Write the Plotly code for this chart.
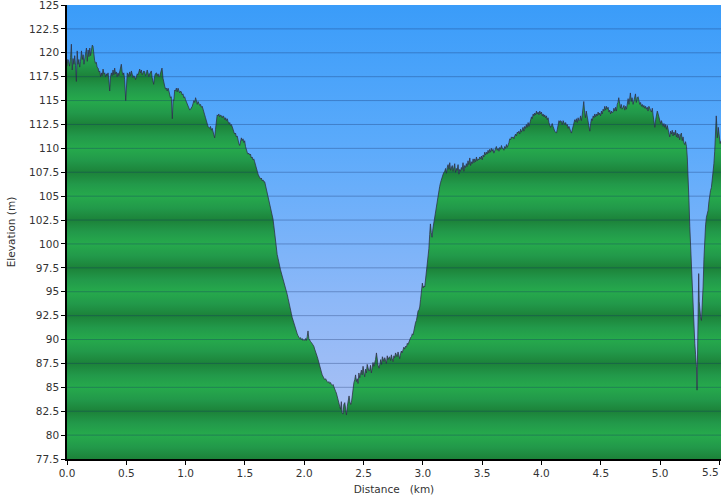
import plotly.graph_objects as go

# ---------------- data ----------------
DIST_KM = [
    # 0.00 - 0.29
    0.000,0.007,0.014,0.022,0.030,0.037,0.044,0.051,0.058,0.065,
    0.072,0.079,0.086,0.093,0.100,0.107,0.114,0.122,0.129,0.136,
    0.143,0.150,0.157,0.164,0.171,0.178,0.185,0.192,0.199,0.206,
    0.213,0.219,0.226,0.233,0.240,0.247,0.254,0.262,0.269,0.276,
    0.283,0.290,
    # 0.30 - 0.80
    0.297,0.304,0.311,0.318,0.325,0.332,0.339,0.346,0.353,0.360,
    0.367,0.374,0.381,0.388,0.395,0.402,0.409,0.416,0.423,0.430,
    0.437,0.444,0.451,0.458,0.465,0.472,0.479,0.486,0.495,0.502,
    0.508,0.515,0.522,0.529,0.536,0.543,0.550,0.557,0.564,0.571,
    0.578,0.585,0.592,0.599,0.606,0.613,0.620,0.627,0.634,0.641,
    0.648,0.655,0.662,0.669,0.676,0.683,0.690,0.697,0.704,0.711,
    0.718,0.725,0.731,0.738,0.745,0.754,0.761,0.768,0.775,0.782,
    0.789,0.796,0.801,
    # 0.81 - 1.53
    0.810,0.817,0.824,0.831,0.838,0.845,0.852,0.859,0.866,0.872,
    0.879,0.888,0.895,0.901,0.908,0.915,0.922,0.929,0.936,0.943,
    0.950,0.957,0.964,0.971,0.978,0.985,0.992,0.999,1.006,1.014,
    1.021,1.028,1.035,1.042,1.049,1.056,1.063,1.070,1.077,1.084,
    1.091,1.098,1.105,1.112,1.119,1.126,1.133,1.140,1.147,1.154,
    1.161,1.168,1.175,1.182,1.189,1.196,1.203,1.210,1.217,1.224,
    1.231,1.238,1.245,1.252,1.259,1.266,1.273,1.280,1.287,1.294,
    1.302,1.309,1.316,1.323,1.330,1.337,1.344,1.351,1.358,1.365,
    1.372,1.379,1.386,1.393,1.400,1.407,1.414,1.421,1.428,1.435,
    1.442,1.449,1.456,1.463,1.470,1.477,1.484,1.491,1.498,1.505,
    1.512,1.519,1.526,
    # 1.53 - 2.10
    1.533,1.540,1.547,1.554,1.561,1.568,1.575,1.582,1.589,1.596,
    1.603,1.611,1.618,1.625,1.632,1.639,1.646,1.653,1.660,1.667,
    1.674,1.681,1.688,1.695,1.702,1.709,1.716,1.723,1.730,1.737,
    1.744,1.751,1.758,1.765,1.772,1.779,1.786,1.793,1.800,1.807,
    1.814,1.821,1.828,1.835,1.842,1.850,1.857,1.864,1.871,1.878,
    1.885,1.892,1.899,1.906,1.913,1.920,1.927,1.934,1.941,1.948,
    1.955,1.962,1.969,1.976,1.983,1.990,1.997,2.004,2.011,2.018,
    2.025,2.032,2.039,2.046,2.053,2.060,2.067,2.074,2.081,2.088,
    2.095,2.103,
    # 2.11 - 3.02
    2.110,2.117,2.124,2.131,2.138,2.145,2.152,2.159,2.166,2.173,
    2.180,2.187,2.194,2.201,2.208,2.215,2.222,2.229,2.236,2.243,
    2.250,2.257,2.264,2.271,2.278,2.285,2.292,2.299,2.306,2.313,
    2.320,2.327,2.334,2.342,2.349,2.356,2.363,2.370,2.378,2.385,
    2.392,2.398,2.405,2.412,2.419,2.426,2.433,2.440,2.447,2.454,
    2.461,2.468,2.475,2.482,2.489,2.496,2.503,2.510,2.517,2.524,
    2.531,2.538,2.545,2.552,2.559,2.566,2.573,2.580,2.587,2.594,
    2.601,2.609,2.616,2.623,2.631,2.638,2.645,2.652,2.659,2.665,
    2.672,2.679,2.686,2.693,2.700,2.707,2.714,2.721,2.728,2.735,
    2.742,2.749,2.756,2.763,2.770,2.777,2.784,2.791,2.798,2.805,
    2.812,2.819,2.826,2.833,2.840,2.847,2.854,2.862,2.869,2.876,
    2.883,2.890,2.897,2.904,2.911,2.918,2.925,2.932,2.939,2.946,
    2.953,2.960,2.967,2.974,2.981,2.988,2.996,3.003,3.010,3.016,
    # 3.02 - 5.22
    3.023,3.030,3.037,3.044,3.051,3.058,3.064,3.071,3.078,3.085,
    3.092,3.100,3.107,3.114,3.121,3.128,3.135,3.142,3.149,3.157,
    3.164,3.171,3.178,3.185,3.192,3.199,3.206,3.213,3.220,3.227,
    3.234,3.241,3.248,3.255,3.262,3.269,3.276,3.283,3.290,3.297,
    3.304,3.311,3.318,3.325,3.332,3.339,3.346,3.353,3.360,3.367,
    3.374,3.381,3.388,3.396,3.403,3.410,3.417,3.424,3.431,3.438,
    3.445,3.452,3.459,3.466,3.473,3.480,3.487,3.494,3.501,3.508,
    3.515,3.522,3.529,3.536,3.543,3.550,3.557,3.564,3.571,3.578,
    3.585,3.592,3.599,3.606,3.613,3.620,3.627,3.635,3.642,3.649,
    3.656,3.663,3.670,3.677,3.684,3.691,3.698,3.705,3.712,3.719,
    3.726,3.733,3.740,3.747,3.754,3.761,3.768,3.775,3.782,3.789,
    3.796,3.803,3.810,3.817,3.824,3.831,3.838,3.845,3.852,3.859,
    3.866,3.873,3.880,3.888,3.895,3.902,3.909,3.916,3.923,3.930,
    3.937,3.944,3.951,3.958,3.965,3.972,3.979,3.986,3.993,4.000,
    4.007,4.014,4.021,4.028,4.035,4.042,4.049,4.056,4.063,4.070,
    4.077,4.084,4.091,4.098,4.105,4.112,4.119,4.127,4.134,4.141,
    4.148,4.155,4.162,4.169,4.176,4.183,4.190,4.197,4.204,4.211,
    4.218,4.225,4.232,4.239,4.246,4.253,4.260,4.267,4.274,4.281,
    4.288,4.295,4.302,4.309,4.316,4.323,4.330,4.337,4.344,4.351,
    4.357,4.364,4.371,4.378,4.385,4.392,4.399,4.408,4.415,4.422,
    4.429,4.436,4.443,4.450,4.457,4.464,4.471,4.478,4.485,4.492,
    4.499,4.506,4.513,4.520,4.527,4.534,4.541,4.548,4.555,4.562,
    4.569,4.576,4.583,4.590,4.597,4.604,4.611,4.618,4.625,4.632,
    4.639,4.645,4.652,4.659,4.666,4.673,4.680,4.689,4.696,4.703,
    4.710,4.717,4.724,4.731,4.738,4.745,4.750,4.757,4.764,4.773,
    4.780,4.787,4.793,4.800,4.807,4.815,4.822,4.829,4.836,4.843,
    4.850,4.857,4.864,4.871,4.878,4.885,4.892,4.899,4.906,4.913,
    4.920,4.928,4.935,4.942,4.949,4.956,4.963,4.970,4.977,4.984,
    4.991,4.998,5.005,5.012,5.019,5.026,5.033,5.040,5.047,5.054,
    5.061,5.068,5.075,5.082,5.089,5.096,5.103,5.110,5.117,5.124,
    5.131,5.138,5.145,5.152,5.159,5.166,5.173,5.180,5.187,5.194,
    5.201,5.208,5.215,5.223,
    # 5.23 - end
    5.230,5.237,5.244,5.251,5.258,5.265,5.272,5.279,5.286,5.293,
    5.300,5.307,5.312,5.317,5.321,5.326,5.330,5.335,5.342,5.349,
    5.356,5.363,5.370,5.377,5.384,5.391,5.398,5.405,5.412,5.419,
    5.426,5.433,5.440,5.447,5.454,5.461,5.466,5.470,5.474,5.478,
    5.483,5.487,5.491,5.495,5.500,5.507,5.514,
]

ELEV_M = [
    # 0.00 - 0.29
    118.6,119.3,119.1,118.6,119.5,120.9,118.2,119.4,118.8,119.7,
    118.7,117.0,120.2,118.8,119.3,118.5,119.1,120.2,119.3,119.8,
    118.8,119.4,120.1,120.5,119.1,120.3,119.6,120.5,119.7,120.3,
    120.8,120.7,119.8,119.2,118.9,119.0,118.5,118.4,118.0,118.1,
    117.5,117.9,
    # 0.30 - 0.80
    117.6,118.3,117.8,117.9,117.5,117.8,117.6,117.9,117.2,116.0,
    117.5,117.9,117.6,118.2,117.7,118.4,117.8,118.0,117.5,117.9,
    117.6,118.0,118.3,118.8,118.0,117.7,117.9,117.2,115.0,117.3,
    117.9,117.8,117.5,118.0,117.6,118.1,117.7,117.4,117.6,117.5,
    117.2,117.6,117.8,117.7,118.0,118.3,117.9,118.2,117.7,117.9,
    118.1,118.0,117.6,117.8,118.2,117.9,117.5,117.8,118.0,118.1,
    117.4,116.9,116.7,117.5,117.8,117.9,117.6,117.8,117.5,117.6,
    118.0,118.2,118.4,
    # 0.81 - 1.53
    117.3,116.7,116.5,116.2,116.3,116.0,116.3,116.0,115.6,115.3,
    115.4,113.1,115.1,115.0,116.1,116.0,116.3,115.9,116.3,116.0,
    115.8,116.0,115.9,115.6,115.7,115.3,115.4,115.1,114.9,114.5,
    114.3,114.1,114.0,114.1,114.2,114.4,114.7,115.0,114.8,115.3,
    115.0,114.6,114.9,114.7,114.5,114.6,114.3,114.4,114.0,113.7,
    113.5,113.2,112.8,112.5,112.3,112.2,112.1,112.3,111.9,112.1,
    111.8,111.5,111.1,112.0,113.0,113.5,113.4,113.6,113.3,113.5,
    113.4,113.2,113.4,113.3,113.0,113.2,112.9,113.1,112.8,112.6,
    112.7,112.4,112.5,112.1,112.0,111.7,111.5,111.6,111.2,111.3,
    110.8,110.5,110.3,110.7,111.1,110.8,111.0,110.6,110.8,110.2,
    109.7,109.6,109.4,
    # 1.53 - 2.10
    109.5,109.3,109.4,109.0,109.1,108.8,108.9,108.6,108.2,107.9,
    107.6,107.3,107.1,107.0,106.8,106.9,106.6,106.7,106.5,106.5,
    106.1,105.8,105.5,105.2,104.8,104.4,104.0,103.5,102.9,102.6,
    101.9,101.0,100.2,99.3,98.9,98.5,98.2,97.7,97.3,97.0,
    96.7,96.5,96.2,95.8,95.5,95.1,94.7,94.3,93.8,93.4,
    93.0,92.7,92.3,92.0,91.6,91.3,91.0,90.8,90.6,90.4,
    90.2,90.1,90.2,90.0,90.1,89.9,90.0,89.9,90.1,89.9,
    90.3,90.9,90.1,89.9,89.8,89.7,89.6,89.5,89.3,89.0,
    88.8,88.5,
    # 2.11 - 3.02
    88.2,87.9,87.5,87.2,86.9,86.6,86.3,86.1,86.0,85.8,
    85.9,85.7,85.6,85.5,85.6,85.4,85.5,85.3,85.2,85.3,
    85.0,84.7,84.6,84.4,84.0,83.6,83.3,83.0,82.7,83.5,
    82.3,82.2,83.2,83.4,82.6,82.1,83.0,83.6,84.1,83.5,
    83.2,83.4,84.2,85.0,85.5,85.8,86.3,85.6,85.9,85.4,
    86.5,86.0,86.4,86.8,86.3,87.2,86.6,86.1,86.9,86.5,
    87.4,87.0,86.7,86.8,87.3,86.5,87.0,87.6,87.2,87.5,
    87.9,88.6,87.6,87.3,87.0,87.6,87.9,87.4,88.2,88.0,
    87.7,88.1,87.8,87.5,88.3,87.9,88.1,88.2,87.8,88.4,
    88.0,87.7,88.3,88.1,88.6,88.4,88.2,88.7,88.3,88.0,
    88.5,88.8,88.6,88.9,89.2,89.0,89.3,89.2,89.6,89.5,
    89.8,90.0,90.2,90.3,90.6,90.5,91.0,91.4,91.8,92.0,
    92.6,93.0,93.1,93.4,94.2,95.2,95.9,95.4,95.6,95.5,
    # 3.02 - 5.22
    96.4,97.0,97.6,98.3,99.5,101.0,102.1,101.2,100.7,101.6,
    102.2,102.5,103.3,104.0,104.5,104.9,105.5,106.0,106.4,106.8,
    107.1,107.3,107.5,107.6,107.9,107.4,108.0,108.3,107.8,108.5,
    107.7,107.9,108.2,107.6,107.9,108.4,107.5,107.9,107.7,108.3,
    107.3,107.8,107.6,108.0,107.8,108.5,107.6,108.2,108.0,108.4,
    108.1,108.7,108.3,109.0,108.2,108.6,108.4,108.9,108.5,108.9,
    108.6,109.1,108.7,108.9,108.8,109.1,108.9,109.2,108.8,109.3,
    109.1,109.6,109.3,109.6,109.4,109.8,109.5,109.9,109.6,110.0,
    109.7,109.9,109.5,109.8,109.9,110.2,109.8,110.0,109.7,110.1,
    109.9,110.3,110.0,110.0,109.8,110.2,110.0,110.4,110.1,110.3,
    110.6,111.0,110.9,111.2,111.1,111.2,111.0,111.3,111.5,111.3,
    111.7,111.6,111.8,111.5,112.0,111.7,111.9,112.2,111.8,112.3,
    112.1,112.5,112.2,112.7,112.3,112.6,113.0,113.3,113.1,113.6,
    113.4,113.7,113.5,113.9,113.6,113.8,113.5,113.9,113.6,113.8,
    113.4,113.6,113.3,113.5,113.2,113.4,113.0,113.2,112.7,112.5,
    112.2,112.4,112.6,112.3,112.0,111.8,111.7,111.6,112.0,112.5,
    112.9,112.7,112.9,112.8,112.5,112.9,112.7,112.5,112.7,112.4,
    112.5,112.1,112.3,111.9,111.8,111.6,112.0,112.5,112.7,113.0,
    112.8,113.1,112.7,113.2,112.9,113.0,113.4,112.9,113.5,114.2,
    114.9,113.8,113.2,113.9,113.4,112.8,112.3,111.8,112.6,113.1,
    112.9,113.4,113.2,113.6,113.3,113.6,113.4,113.8,113.5,113.7,
    113.4,113.9,113.6,114.1,113.9,114.4,114.0,114.4,114.1,114.3,
    113.8,114.0,113.6,113.9,113.7,113.8,114.2,113.9,114.3,113.9,
    114.6,114.8,115.3,114.5,114.2,114.6,114.1,114.3,114.5,114.0,
    114.4,114.1,114.8,115.2,114.6,115.5,115.8,114.9,115.3,114.6,
    115.1,115.6,115.7,114.8,115.3,115.4,114.7,114.6,114.8,114.4,
    114.6,114.3,114.5,114.2,114.4,114.1,114.3,113.9,114.4,114.1,
    114.0,113.8,114.2,113.4,112.9,112.2,113.0,113.8,113.9,113.6,
    113.2,112.8,112.6,112.9,112.5,112.3,112.6,112.2,112.5,112.0,
    112.4,111.9,111.6,111.2,111.8,111.5,111.9,111.3,111.7,111.4,
    111.9,111.2,111.6,111.1,111.5,110.9,111.4,111.6,110.8,111.2,
    110.6,110.4,110.7,110.2,
    # 5.23 - end
    109.0,107.3,104.5,101.8,99.6,97.6,95.9,94.1,91.8,89.6,
    88.4,87.2,84.7,88.0,90.6,96.9,94.0,92.7,92.4,92.0,
    93.6,95.5,98.4,101.1,102.0,102.8,103.1,103.5,104.4,105.2,
    105.6,105.9,106.6,107.3,108.4,109.7,111.5,112.9,113.4,112.6,
    111.1,111.6,112.2,111.7,110.9,110.5,110.8,
]

assert len(DIST_KM) == len(ELEV_M)

Y_TICKS = [77.5, 80, 82.5, 85, 87.5, 90, 92.5, 95, 97.5, 100, 102.5, 105,
           107.5, 110, 112.5, 115, 117.5, 120, 122.5, 125]
Y_TICK_TEXT = ["77.5", "80", "82.5", "85", "87.5", "90", "92.5", "95", "97.5",
               "100", "102.5", "105", "107.5", "110", "112.5", "115", "117.5",
               "120", "122.5", "125"]
X_TICKS = [0.0, 0.5, 1.0, 1.5, 2.0, 2.5, 3.0, 3.5, 4.0, 4.5, 5.0, 5.5]
X_TICK_TEXT = ["0.0", "0.5", "1.0", "1.5", "2.0", "2.5", "3.0", "3.5", "4.0",
               "4.5", "5.0", "5.5"]

X_RANGE = [0.0, 5.514]
Y_RANGE = [77.5, 125.0]

# ---------------- styling ----------------
FONT = "DejaVu Sans"
TXT = "#333333"
FS = 10.5
SKY_SCALE = [[0.0, "#b3c3f2"], [0.35, "#8db8f8"], [0.7, "#5aaafb"], [1.0, "#3a9cf9"]]

GREEN_LIGHT = "#26aa4c"
GREEN_MID = "#22994a"
GREEN_DARK = "#1c8239"
BAND = 5.0  # metres per band period
span = Y_RANGE[1] - Y_RANGE[0]
ground_scale = []
e = Y_RANGE[0]
pattern = [GREEN_DARK, GREEN_MID, GREEN_LIGHT, GREEN_MID]
step = BAND / 4
i = 0
while e <= Y_RANGE[1] + 1e-9:
    ground_scale.append([round((e - Y_RANGE[0]) / span, 6), pattern[i % 4]])
    e += step
    i += 1
ground_scale[-1][0] = 1.0

fig = go.Figure()

# sky background (gradient)
fig.add_trace(go.Scatter(
    x=X_RANGE, y=[Y_RANGE[1], Y_RANGE[1]],
    mode="lines", line=dict(width=0),
    fill="tozeroy",
    fillgradient=dict(type="vertical", colorscale=SKY_SCALE,
                      start=Y_RANGE[0], stop=Y_RANGE[1]),
    hoverinfo="skip", showlegend=False,
))

# elevation profile
fig.add_trace(go.Scatter(
    x=DIST_KM, y=ELEV_M,
    mode="lines",
    line=dict(color="rgba(45,45,70,0.75)", width=1),
    fill="tozeroy",
    fillgradient=dict(type="vertical", colorscale=ground_scale,
                      start=Y_RANGE[0], stop=Y_RANGE[1]),
    showlegend=False,
))

# horizontal grid lines drawn over the fills
for yv in Y_TICKS[1:-1]:
    fig.add_shape(type="line", xref="paper", yref="y", x0=0, x1=1, y0=yv, y1=yv,
                  line=dict(color="rgba(20,45,100,0.32)", width=1), layer="above")

# tick labels: all but the last drawn by the axis; the last one is pulled
# left so it stays inside the image (as the original does)
axis_tick_text = X_TICK_TEXT[:-1] + [""]
fig.add_annotation(x=X_TICKS[-1], xref="x", y=0, yref="paper",
                   text=X_TICK_TEXT[-1], showarrow=False,
                   xanchor="right", yanchor="top", xshift=2, yshift=-5,
                   font=dict(family=FONT, size=FS, color=TXT))

fig.update_layout(
    width=725, height=495,
    margin=dict(l=67, r=4, t=5, b=36, autoexpand=False),
    paper_bgcolor="white", plot_bgcolor="white",
    font=dict(family=FONT, size=FS, color=TXT),
    showlegend=False,
)
fig.update_xaxes(
    range=X_RANGE, tickvals=X_TICKS, ticktext=axis_tick_text,
    showgrid=False, zeroline=False,
    showline=True, linecolor="black", linewidth=1.5,
    ticks="outside", ticklen=4, tickcolor="black",
    tickfont=dict(size=FS, color=TXT),
    title=dict(text="Distance   (km)", font=dict(size=FS, color=TXT), standoff=7),
)
fig.update_yaxes(
    range=Y_RANGE, tickvals=Y_TICKS, ticktext=Y_TICK_TEXT,
    ticklabeloverflow="allow",
    showgrid=False, zeroline=False,
    showline=True, linecolor="black", linewidth=1.5,
    ticks="outside", ticklen=4, tickcolor="black",
    tickfont=dict(size=FS, color=TXT),
    title=dict(text="Elevation (m)", font=dict(size=FS, color=TXT), standoff=11),
)

fig.write_html("out.html",
               config={"displayModeBar": False},
               post_script="document.body.style.margin='0px';document.body.style.padding='0px';")
